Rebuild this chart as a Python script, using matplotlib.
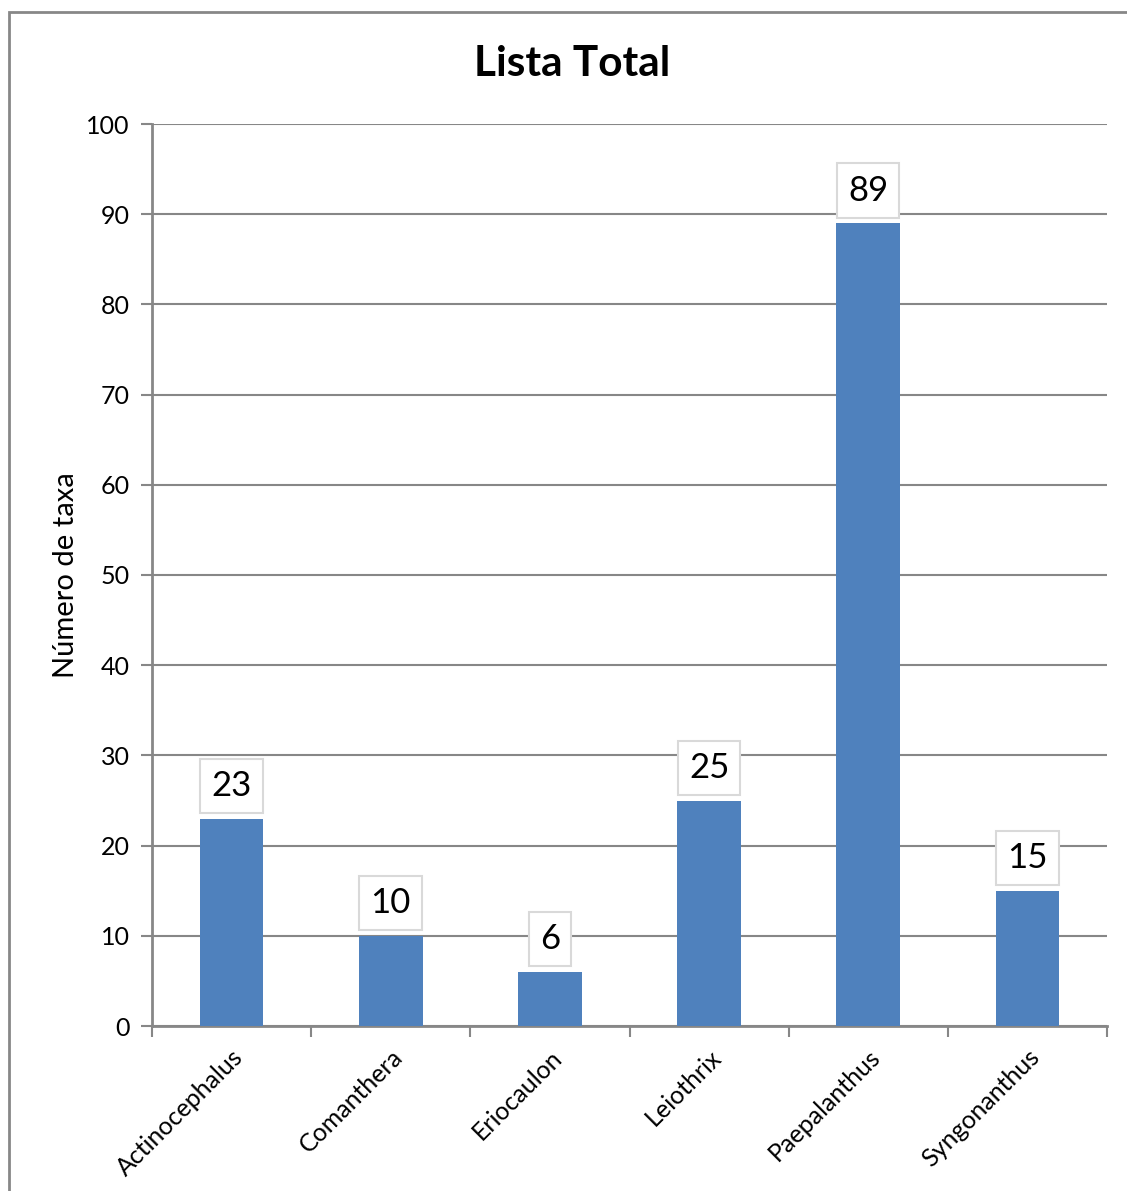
import matplotlib.pyplot as plt
import matplotlib.patches as patches
import numpy as np

plt.rcParams['font.family'] = ['Lato', 'DejaVu Sans']

genera = ["Actinocephalus", "Comanthera", "Eriocaulon", "Leiothrix", "Paepalanthus", "Syngonanthus"]
taxa = [23, 10, 6, 25, 89, 15]
yticks = [0, 10, 20, 30, 40, 50, 60, 70, 80, 90, 100]

grey = "#878787"

fig = plt.figure(figsize=(11.27, 11.91), dpi=100)
ax = fig.add_axes([152/1127, 1 - 1026/1191, (1107 - 152)/1127, (1026 - 124)/1191])

# outer chart frame
fig.patches.append(patches.Rectangle((9/1127, -0.05), 1.2, 1 - 12/1191 + 0.05,
                                     transform=fig.transFigure, fill=False,
                                     edgecolor=grey, linewidth=2))

x = np.arange(len(genera))
bars = ax.bar(x, taxa, width=0.4, color="#4F81BD", zorder=3)

ax.set_xlim(-0.5, len(genera) - 0.5)
ax.set_ylim(0, 100)
ax.set_yticks(yticks)
ax.tick_params(axis="y", labelsize=18, length=8, width=1.5, color=grey, pad=8)
ax.yaxis.grid(True, color=grey, linewidth=1.5, zorder=0)
ax.set_axisbelow(True)

ax.set_xticks(x)
ax.set_xticklabels(genera, rotation=45, ha="right", rotation_mode="anchor", fontsize=18)
ax.tick_params(axis="x", length=0, pad=14)
ax.set_xticks(np.arange(len(genera) + 1) - 0.5, minor=True)
ax.tick_params(axis="x", which="minor", length=8, width=1.5, color=grey)

for s in ["top", "right"]:
    ax.spines[s].set_visible(False)
for s in ["left", "bottom"]:
    ax.spines[s].set_color(grey)
    ax.spines[s].set_linewidth(2)

for xi, v in zip(x, taxa):
    ax.annotate(str(v), (xi, v), xytext=(0, 12), textcoords="offset points",
                ha="center", va="bottom", fontsize=25,
                bbox=dict(boxstyle="square,pad=0.32", facecolor="white",
                          edgecolor="#d9d9d9", linewidth=1.5))

ax.set_ylabel("Número de taxa", fontsize=21, labelpad=5)
fig.text(0.508, 1 - 64/1191, "Lista Total", ha="center", va="center",
         fontsize=30.5, fontweight="bold")

fig.savefig("out.png", dpi=100)
